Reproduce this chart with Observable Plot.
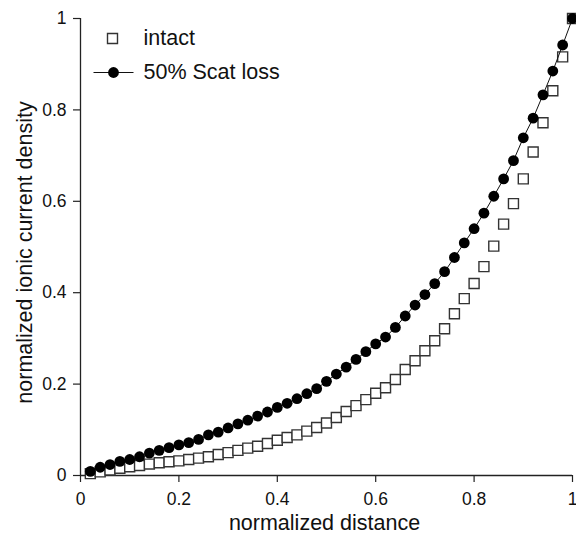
<!DOCTYPE html>
<html><head><meta charset="utf-8">
<script src="https://cdn.jsdelivr.net/npm/d3@7"></script>
<script src="https://cdn.jsdelivr.net/npm/@observablehq/plot@0.6"></script>
<style>html,body{margin:0;padding:0;background:#fff}#chart svg{display:block}</style>
</head><body><div id="chart"></div>
<script>
const distance = [0.02,0.04,0.06,0.08,0.10,0.12,0.14,0.16,0.18,0.20,0.22,0.24,0.26,0.28,0.30,0.32,0.34,0.36,0.38,0.40,0.42,0.44,0.46,0.48,0.50,0.52,0.54,0.56,0.58,0.60,0.62,0.64,0.66,0.68,0.70,0.72,0.74,0.76,0.78,0.80,0.82,0.84,0.86,0.88,0.90,0.92,0.94,0.96,0.98,1.00];
const intact = [0.004,0.008,0.012,0.016,0.019,0.022,0.025,0.028,0.030,0.032,0.035,0.038,0.041,0.046,0.050,0.055,0.060,0.064,0.070,0.077,0.083,0.089,0.097,0.105,0.115,0.127,0.140,0.153,0.166,0.180,0.192,0.210,0.232,0.251,0.273,0.295,0.321,0.354,0.387,0.420,0.457,0.502,0.550,0.595,0.649,0.708,0.772,0.842,0.916,1.000];
const scatLoss = [0.009,0.018,0.024,0.031,0.035,0.041,0.049,0.055,0.061,0.067,0.072,0.079,0.089,0.095,0.104,0.113,0.121,0.130,0.139,0.149,0.158,0.168,0.179,0.190,0.206,0.222,0.237,0.254,0.271,0.288,0.303,0.324,0.349,0.373,0.396,0.420,0.446,0.477,0.509,0.540,0.574,0.611,0.649,0.689,0.739,0.782,0.833,0.885,0.942,1.000];
const xTicks = [0,0.2,0.4,0.6,0.8,1];
const yTicks = [0,0.2,0.4,0.6,0.8,1];
const legendLabels = ["intact","50% Scat loss"];
const xTitle = "normalized distance";
const yTitle = "normalized ionic current density";

const table = distance.map((d,i)=>({d, intact: intact[i], loss: scatLoss[i]}));
const fmt = v => String(+v.toFixed(1));
const font = "'Liberation Sans', Arial, Helvetica, sans-serif";
const lineSymbol = {draw(ctx){ ctx.moveTo(-20,0); ctx.lineTo(20,0); }};

const chart = Plot.plot({
  width: 576, height: 536,
  marginLeft: 80, marginRight: 4, marginTop: 18, marginBottom: 61,
  style: {fontFamily: font, fontSize: "17.5px", background: "#fff", color: "#111", overflow: "visible"},
  x: {domain: [0,1]},
  y: {domain: [0,1]},
  marks: [
    Plot.axisX({ticks: xTicks, tickFormat: fmt, tickSize: 7, tickPadding: 10, fontSize: 17.5, label: null, stroke: "#222", strokeWidth: 1.2}),
    Plot.axisY({ticks: yTicks, tickFormat: fmt, tickSize: 7, tickPadding: 7, fontSize: 17.5, label: null, stroke: "#222", strokeWidth: 1.2}),
    Plot.ruleX([0], {stroke: "#222", strokeWidth: 1.3}),
    Plot.ruleY([0], {stroke: "#222", strokeWidth: 1.3}),
    Plot.dot(table, {x: "d", y: "intact", symbol: "square", r: 5.64, fill: "white", stroke: "#333", strokeWidth: 1.4}),
    Plot.line(table, {x: "d", y: "loss", stroke: "#111", strokeWidth: 1}),
    Plot.dot(table, {x: "d", y: "loss", r: 5.4, fill: "#000"}),
    // legend
    Plot.dot([legendLabels[0]], {frameAnchor: "top-left", dx: 32, dy: 20, symbol: "square", r: 5.64, fill: "white", stroke: "#333", strokeWidth: 1.4}),
    Plot.dot([legendLabels[1]], {frameAnchor: "top-left", dx: 33, dy: 54, symbol: lineSymbol, stroke: "#111", strokeWidth: 1, fill: "none"}),
    Plot.dot([legendLabels[1]], {frameAnchor: "top-left", dx: 33, dy: 54, r: 5.4, fill: "#000"}),
    Plot.text([legendLabels[0]], {text: d => d, frameAnchor: "top-left", dx: 63, dy: 20, fontSize: 21.5, textAnchor: "start", lineAnchor: "middle", fill: "#111"}),
    Plot.text([legendLabels[1]], {text: d => d, frameAnchor: "top-left", dx: 63, dy: 54, fontSize: 21.5, textAnchor: "start", lineAnchor: "middle", fill: "#111"}),
    // titles
    Plot.text([xTitle], {text: d => d, frameAnchor: "bottom", dx: -2, dy: 48, fontSize: 21.5, textAnchor: "middle", lineAnchor: "middle", fill: "#111"}),
    Plot.text([yTitle], {text: d => d, frameAnchor: "left", dx: -55, dy: 5.5, rotate: -90, fontSize: 21.5, textAnchor: "middle", lineAnchor: "middle", fill: "#111"})
  ]
});
document.getElementById("chart").appendChild(chart);
</script>
</body></html>
